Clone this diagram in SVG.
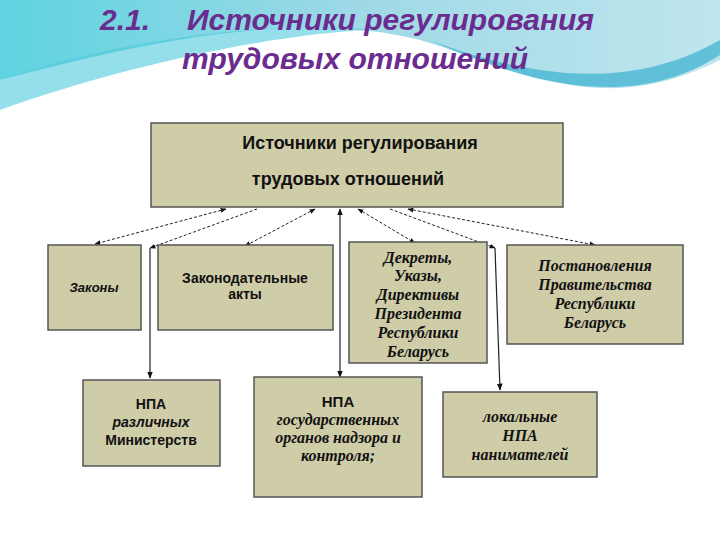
<svg xmlns="http://www.w3.org/2000/svg" width="720" height="540" viewBox="0 0 720 540">
<defs>
<linearGradient id="g1" x1="0" y1="0" x2="1" y2="0"><stop offset="0" stop-color="#5fd3e0"/><stop offset="0.5" stop-color="#9fd9e6"/><stop offset="1" stop-color="#bfe6ee"/></linearGradient>
<marker id="ah" viewBox="0 0 10 10" refX="9" refY="5" markerWidth="6" markerHeight="6" orient="auto-start-reverse"><path d="M0,1 L10,5 L0,9 z" fill="#111"/></marker>
<style>
.box{fill:#cfcca8;stroke:#555;stroke-width:1.5}
.sa{font-family:"Liberation Sans",Arial,sans-serif;font-weight:bold;fill:#111;text-anchor:middle}
.se{font-family:"Liberation Serif","Times New Roman",serif;font-weight:bold;font-style:italic;fill:#111;text-anchor:middle}
.d{stroke:#222;stroke-width:1;fill:none;stroke-dasharray:3,2}
.s{stroke:#222;stroke-width:1.2;fill:none}
.t{font-family:"Liberation Sans",Arial,sans-serif;font-weight:bold;font-style:italic;fill:#6b2c8f;font-size:30px}
</style>
</defs>
<rect width="720" height="540" fill="#fff"/>
<path d="M0,0 H720 V60 C600,120 520,70 420,40 C300,10 150,40 0,80 Z" fill="url(#g1)"/>
<path d="M0,80 C120,40 260,20 380,30 C300,30 140,60 0,110 Z" fill="#4fc9dc" opacity="0.6"/>
<path d="M430,40 C560,90 650,80 720,40 V55 C650,100 560,100 430,40 Z" fill="#3bb0d0" opacity="0.7"/>
<text class="t" x="100" y="30">2.1.</text>
<text class="t" x="187" y="30">Источники регулирования</text>
<text class="t" x="355" y="69" text-anchor="middle">трудовых отношений</text>
<g id="connectors">
<line class="d" x1="226" y1="209" x2="95" y2="244" marker-start="url(#ah)" marker-end="url(#ah)"/>
<line class="d" x1="257" y1="209" x2="150" y2="248" marker-end="url(#ah)"/>
<line class="s" x1="150" y1="248" x2="150" y2="378" marker-end="url(#ah)"/>
<line class="d" x1="315" y1="209" x2="245" y2="246" marker-start="url(#ah)" marker-end="url(#ah)"/>
<line class="s" x1="340" y1="377" x2="340" y2="209" marker-start="url(#ah)" marker-end="url(#ah)"/>
<line class="d" x1="358" y1="209" x2="415" y2="243" marker-start="url(#ah)" marker-end="url(#ah)"/>
<line class="d" x1="390" y1="209" x2="495" y2="248" marker-end="url(#ah)"/>
<line class="s" x1="495" y1="248" x2="500" y2="390" marker-end="url(#ah)"/>
<line class="d" x1="408" y1="209" x2="595" y2="245" marker-start="url(#ah)" marker-end="url(#ah)"/>
</g>
<g id="root"><rect class="box" x="151" y="123" width="412" height="84"/>
<text class="sa" font-size="18" x="360" y="149">Источники регулирования</text>
<text class="sa" font-size="18" x="348" y="185">трудовых отношений</text></g>
<g id="zakony"><rect class="box" x="48" y="245" width="93" height="85"/>
<text class="sa" font-size="13" font-style="italic" x="94" y="292">Законы</text></g>
<g id="zakakty"><rect class="box" x="158" y="245" width="175" height="85"/>
<text class="sa" font-size="14" x="245" y="283">Законодательные</text>
<text class="sa" font-size="14" x="245" y="299">акты</text></g>
<g id="dekrety"><rect class="box" x="349" y="242" width="138" height="121"/>
<text class="se" font-size="16" x="418" y="263">Декреты,</text>
<text class="se" font-size="16" x="418" y="281">Указы,</text>
<text class="se" font-size="16" x="418" y="300">Директивы</text>
<text class="se" font-size="16" x="418" y="319">Президента</text>
<text class="se" font-size="16" x="418" y="338">Республики</text>
<text class="se" font-size="16" x="418" y="357">Беларусь</text></g>
<g id="postanovleniya"><rect class="box" x="507" y="245" width="176" height="99"/>
<text class="se" font-size="16" x="595" y="271">Постановления</text>
<text class="se" font-size="16" x="595" y="290">Правительства</text>
<text class="se" font-size="16" x="595" y="309">Республики</text>
<text class="se" font-size="16" x="595" y="328">Беларусь</text></g>
<g id="npamin"><rect class="box" x="83" y="380" width="137" height="86"/>
<text class="sa" font-size="14" x="151" y="409">НПА</text>
<text class="sa" font-size="14" font-style="italic" x="151" y="427">различных</text>
<text class="sa" font-size="14" x="151" y="445">Министерств</text></g>
<g id="npagos"><rect class="box" x="254" y="377" width="168" height="120"/>
<text class="sa" font-size="15" x="338" y="407">НПА</text>
<text class="se" font-size="16" x="338" y="425">государственных</text>
<text class="se" font-size="16" x="338" y="443">органов надзора и</text>
<text class="se" font-size="16" x="338" y="461">контроля;</text></g>
<g id="lokalnye"><rect class="box" x="443" y="392" width="154" height="85"/>
<text class="se" font-size="16" x="520" y="422">локальные</text>
<text class="se" font-size="16" x="520" y="441">НПА</text>
<text class="se" font-size="16" x="520" y="460">нанимателей</text></g>
</svg>
